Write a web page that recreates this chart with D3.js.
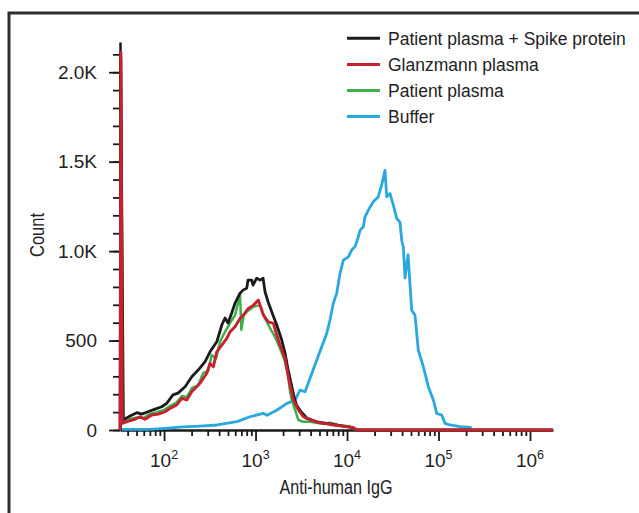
<!DOCTYPE html>
<html>
<head>
<meta charset="utf-8">
<script src="https://cdn.jsdelivr.net/npm/d3@7"></script>
<style>
body{margin:0;background:#fff;}
svg text{font-family:"Liberation Sans",Arial,Helvetica,sans-serif;fill:#222;}
</style>
</head>
<body>
<svg id="chart" width="639" height="513"></svg>
<script>
var seriesNames = ["Patient plasma + Spike protein", "Glanzmann plasma", "Patient plasma", "Buffer"];

// [fluorescence, count]
var plasmaSpike = [[33.1,0],[33.6,2080],[35.9,58],[42.5,78],[50.4,97],[57,89],[66.8,102],[79.8,117],[94.4,130],[107,149],
  [125,196],[142,206],[170,242],[201,298],[236,335],[281,382],[318,437],[377,493],[428,587],[464,626],[500,598],[549,654],
  [597,709],[677,765],[730,782],[801,793],[828,838],[908,838],[939,810],[1030,849],[1120,838],[1208,849],[1270,773],
  [1370,717],[1553,642],[1706,587],[1933,503],[2100,430],[2265,340],[2443,262],[2636,185],[2806,140],[3140,102],
  [3630,67],[4670,46],[6515,34],[9040,22],[11640,13],[12850,0],[1784000,0]];

var glanzmann = [[33.1,0],[33.8,2110],[35,37],[40.7,50],[48.2,60],[54.7,74],[62,60],[73.4,84],[86.7,89],[102.6,102],
  [116.4,121],[137.7,140],[156.2,177],[177,168],[200.8,214],[247.5,261],[292.8,317],[318,372],[346,354],[377,437],
  [428,475],[485,512],[526,549],[597,577],[677,624],[736,642],[834,680],[946,698],[1073,726],[1120,698],[1217,642],
  [1380,605],[1566,596],[1706,531],[1853,475],[2100,400],[2210,335],[2384,250],[2589,168],[2937,112],[3328,74],
  [3942,56],[5070,41],[7080,28],[9930,19],[11730,13],[12760,0],[1784000,0]];

var patientPlasma = [[33.1,0],[33.7,2090],[35.6,45],[42.5,62],[50.7,70],[58.9,66],[70.3,90],[83.7,100],[100,112],
  [116.4,135],[135.3,152],[157.4,190],[178.3,185],[202.4,235],[235.4,250],[266.8,318],[302.7,330],[332,419],[369.7,400],
  [409,493],[464,549],[526,598],[597,642],[677,754],[700,560],[740,640],[801,661],[946,689],[1120,698],[1270,624],
  [1439,570],[1633,521],[1853,456],[2100,382],[2230,330],[2384,215],[2489,168],[2704,112],[2937,56],[3328,46],
  [3942,46],[5520,34],[6515,41],[8380,26],[10790,19],[12220,4],[13180,0],[1784000,0]];

var buffer = [[34.8,4],[70.3,4],[102,9],[161,17],[247,22],[379,28],[628,47],[871,74],[1208,93],[1336,82],[1718,112],
  [2208,149],[2704,168],[3064,223],[3475,214],[3942,289],[4670,391],[5290,465],[5995,540],[6515,615],[7080,708],
  [7710,764],[8380,875],[9120,950],[10330,968],[11250,1006],[12220,1024],[13280,1080],[13870,1117],[15070,1136],
  [15730,1192],[17100,1229],[19380,1276],[21980,1304],[23930,1370],[26000,1452],[27160,1304],[29510,1322],[32060,1257],
  [34910,1183],[37930,1160],[39620,1061],[41220,1024],[43050,850],[46450,980],[50930,670],[55350,642],[60130,447],
  [68230,354],[77400,242],[87740,168],[95500,93],[108300,84],[117800,37],[133600,28],[171800,19],[230600,15]];

var yTicks = [0, 500, 1000, 1500, 2000];
var yTickLabels = ["0", "500", "1.0K", "1.5K", "2.0K"];
var xTicks = [1e2, 1e3, 1e4, 1e5, 1e6];
var xTickExps = ["2", "3", "4", "5", "6"];

var colors = ["#1b1b1b", "#c8202f", "#3cb14a", "#29a8e0"];

var svg = d3.select("#chart");

var x = d3.scaleLog().domain([33, 1784000]).range([120, 553]);
var y = d3.scaleLinear().domain([0, 2169]).range([430, 42]);

// outer frame, cut by the page edge
svg.append("rect")
    .attr("x", 9).attr("y", 13)
    .attr("width", 700).attr("height", 600)
    .attr("fill", "none")
    .attr("stroke", "#2e2e2e")
    .attr("stroke-width", 3);

// y axis
var gy = svg.append("g").attr("transform", "translate(120,0)");
gy.append("g")
    .call(d3.axisLeft(y).tickValues(d3.range(0, 2101, 100)).tickSize(7).tickSizeOuter(0).tickFormat(""));
gy.append("g")
    .call(d3.axisLeft(y).tickValues(yTicks).tickSize(11).tickSizeOuter(0).tickPadding(12)
        .tickFormat(function(d, i) { return yTickLabels[i]; }))
    .call(function(g) { g.select(".domain").remove(); });

// x axis
var gx = svg.append("g").attr("transform", "translate(0,430)");
gx.append("g")
    .call(d3.axisBottom(x).tickValues(x.ticks().filter(function(d) { return xTicks.indexOf(d) < 0; }))
        .tickSize(6).tickSizeOuter(0).tickFormat(""));
gx.append("g")
    .call(d3.axisBottom(x).tickValues(xTicks).tickSize(11).tickSizeOuter(0).tickFormat(""))
    .call(function(g) { g.select(".domain").remove(); });

svg.selectAll(".domain").attr("stroke", "#1a1a1a").attr("stroke-width", 2.5);
svg.selectAll(".tick line").attr("stroke", "#1a1a1a").attr("stroke-width", 1.8);
gy.selectAll(".tick text")
    .style("font-size", "19px")
    .style("font-family", "'Liberation Sans', Arial, sans-serif")
    .attr("fill", "#222");

var xl = svg.selectAll(".xlab")
    .data(xTicks)
    .enter().append("text")
    .attr("class", "xlab")
    .attr("x", function(d) { return x(d); })
    .attr("y", 467)
    .attr("text-anchor", "middle")
    .style("font-size", "19px");
xl.append("tspan").text("10");
xl.append("tspan")
    .attr("dy", -8)
    .style("font-size", "12.5px")
    .text(function(d, i) { return xTickExps[i]; });

// axis titles, condensed face
svg.append("text")
    .attr("x", 336).attr("y", 494)
    .attr("text-anchor", "middle")
    .attr("textLength", 113)
    .attr("lengthAdjust", "spacingAndGlyphs")
    .style("font-size", "20px")
    .text("Anti-human IgG");

svg.append("text")
    .attr("transform", "translate(44,235) rotate(-90)")
    .attr("text-anchor", "middle")
    .attr("textLength", 44)
    .attr("lengthAdjust", "spacingAndGlyphs")
    .style("font-size", "20px")
    .text("Count");

// histograms, drawn back to front
var line = d3.line()
    .x(function(d) { return x(d[0]); })
    .y(function(d) { return y(d[1]); });

var series = [plasmaSpike, glanzmann, patientPlasma, buffer];
var order = [3, 2, 0, 1];
var widths = [2.8, 2.9, 2.5, 2.8];

svg.selectAll(".hist")
    .data(order)
    .enter().append("path")
    .attr("class", "hist")
    .attr("d", function(k) { return line(series[k]); })
    .attr("fill", "none")
    .attr("stroke", function(k) { return colors[k]; })
    .attr("stroke-width", function(k) { return widths[k]; })
    .attr("stroke-linejoin", "round");

// legend
var leg = svg.selectAll(".leg")
    .data(seriesNames)
    .enter().append("g")
    .attr("class", "leg")
    .attr("transform", function(d, i) { return "translate(347," + (38.3 + i * 26.1) + ")"; });
leg.append("line")
    .attr("x1", 0).attr("x2", 33)
    .attr("stroke", function(d, i) { return colors[i]; })
    .attr("stroke-width", 3);
leg.append("text")
    .attr("x", 41).attr("y", 6.5)
    .style("font-size", "17.5px")
    .text(function(d) { return d; });
</script>
</body>
</html>
